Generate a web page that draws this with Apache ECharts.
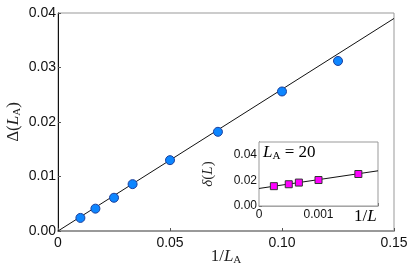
<!DOCTYPE html>
<html>
<head>
<meta charset="utf-8">
<script src="https://cdn.jsdelivr.net/npm/echarts@6/dist/echarts.min.js"></script>
<style>html,body{margin:0;padding:0;background:#fff}#c{width:411px;height:267px}</style>
</head>
<body>
<div id="c"></div>
<script>
// Main panel data
var invLA = [0.01, 0.0167, 0.025, 0.0333, 0.05, 0.0714, 0.10, 0.125];
var deltaLA = [0.0024, 0.0041, 0.0061, 0.0086, 0.0130, 0.0182, 0.0256, 0.0312];
var fitMainX = [0, 0.15];
var fitMainY = [0, 0.039];
var mainXTicks = [0, 0.05, 0.10, 0.15];
var mainYTicks = [0.00, 0.01, 0.02, 0.03, 0.04];
// Inset data (L_A = 20)
var invL = [0.00025, 0.0005, 0.00067, 0.001, 0.00167];
var deltaL = [0.0155, 0.0170, 0.0183, 0.0203, 0.0250];
var fitInsetX = [0, 0.002];
var fitInsetY = [0.0137, 0.0275];
var insetXTicks = [0, 0.001];
var insetYTicks = [0.00, 0.02, 0.04];

function pairs(xs, ys){ return xs.map(function(x,i){return [x, ys[i]];}); }

var chart = echarts.init(document.getElementById('c'), null, {renderer:'canvas'});
var sans = 'Liberation Sans, Arial, sans-serif';
var serif = 'Liberation Serif, DejaVu Serif, serif';
var rich = {
  n:{fontFamily:serif, fontSize:17, color:'#222'},
  i:{fontFamily:serif, fontStyle:'italic', fontSize:17, color:'#222'},
  s:{fontFamily:serif, fontSize:11, color:'#222', padding:[7,0,0,0]},
  ni:{fontFamily:serif, fontSize:17, color:'#222'},
  ii:{fontFamily:serif, fontStyle:'italic', fontSize:17, color:'#222'},
  si:{fontFamily:serif, fontSize:11, color:'#222', padding:[7,0,0,0]},
  ia:{fontFamily:serif, fontStyle:'italic', fontSize:15, color:'#222'},
  na:{fontFamily:serif, fontSize:15, color:'#222'}
};
function inList(v, list){ return list.some(function(t){return Math.abs(t-v)<1e-9;}); }

chart.setOption({
  animation:false,
  grid:[
    {left:58, top:13, right:17, bottom:36, containLabel:false, outerBoundsMode:'none',
     show:true, borderColor:'#999', borderWidth:1, backgroundColor:'transparent'},
    {left:259, top:142, right:33, bottom:61, containLabel:false, outerBoundsMode:'none',
     show:true, borderColor:'#999', borderWidth:1, backgroundColor:'#fff', z:5}
  ],
  xAxis:[
    {gridIndex:0, type:'value', min:0, max:0.15, interval:0.05,
     axisLine:{onZero:false, lineStyle:{color:'#999', width:2}},
     axisTick:{inside:true, length:3, lineStyle:{color:'#555'}},
     splitLine:{show:false},
     axisLabel:{fontFamily:sans, fontSize:14, color:'#111', margin:5,
       formatter:function(v){return !inList(v, mainXTicks)?'':(v===0?'0':v.toFixed(2));}},
     name:'{n|1/}{i|L}{s|A}', nameLocation:'middle', nameGap:17, nameMoveOverlap:false,
     nameTextStyle:{rich:rich}},
    {gridIndex:1, type:'value', min:0, max:0.002, interval:0.001,
     axisLine:{onZero:false, lineStyle:{color:'#999', width:1.5}},
     axisTick:{inside:true, length:3, lineStyle:{color:'#555'}},
     splitLine:{show:false},
     axisLabel:{fontFamily:sans, fontSize:12, color:'#111', margin:3,
       formatter:function(v){return !inList(v, insetXTicks)?'':(v===0?'0':'0.001');}}}
  ],
  yAxis:[
    {gridIndex:0, type:'value', min:0, max:0.04, interval:0.01,
     axisLine:{show:true, onZero:false, lineStyle:{color:'#111', width:1}},
     axisTick:{inside:true, length:3, lineStyle:{color:'#555'}},
     splitLine:{show:false},
     axisLabel:{fontFamily:sans, fontSize:14, color:'#111', margin:2,
       formatter:function(v){return inList(v, mainYTicks)?v.toFixed(2):'';}},
     name:'{n|Δ(}{i|L}{s|A}{n|)}', nameLocation:'middle', nameGap:35, nameRotate:90, nameMoveOverlap:false,
     nameTextStyle:{rich:rich}},
    {gridIndex:1, type:'value', min:0, max:0.05, interval:0.02,
     axisLine:{show:true, onZero:false, lineStyle:{color:'#111', width:1}},
     axisTick:{inside:true, length:3, lineStyle:{color:'#555'}},
     splitLine:{show:false},
     axisLabel:{fontFamily:sans, fontSize:12, color:'#111', margin:2, showMaxLabel:false,
       formatter:function(v){return inList(v, insetYTicks)?v.toFixed(2):'';}},
     name:'{ia|δ}{na|(}{ia|L}{na|)}', nameLocation:'middle', nameGap:43, nameRotate:90, nameMoveOverlap:false,
     nameTextStyle:{rich:rich}}
  ],
  series:[
    {type:'line', xAxisIndex:0, yAxisIndex:0, data:pairs(fitMainX, fitMainY), symbol:'none',
     lineStyle:{color:'#111', width:1}, z:2},
    {type:'scatter', xAxisIndex:0, yAxisIndex:0, data:pairs(invLA, deltaLA), symbol:'circle', symbolSize:9,
     itemStyle:{color:'#0d86ff', borderColor:'#1a3f9c', borderWidth:1, opacity:1}, z:3},
    {type:'line', xAxisIndex:1, yAxisIndex:1, data:pairs(fitInsetX, fitInsetY), symbol:'none',
     lineStyle:{color:'#111', width:1}, z:6},
    {type:'scatter', xAxisIndex:1, yAxisIndex:1, data:pairs(invL, deltaL), symbol:'rect', symbolSize:7,
     itemStyle:{color:'#ff00ff', borderColor:'#333', borderWidth:1, opacity:1}, z:7}
  ],
  graphic:[
    {type:'text', left:263, top:144, z:10,
     style:{text:'{ii|L}{si|A}{ni| = 20}', rich:rich}},
    {type:'text', left:354, top:208, z:10,
     style:{text:'{ni|1/}{ii|L}', rich:rich}}
  ]
});
</script>
</body>
</html>
